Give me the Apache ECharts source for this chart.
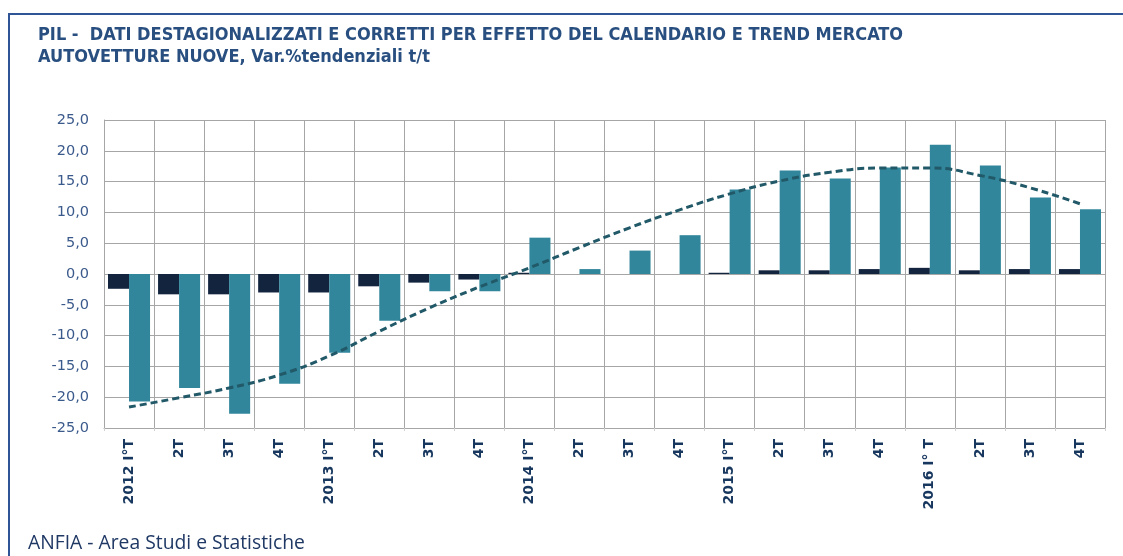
<!DOCTYPE html>
<html><head><meta charset="utf-8">
<script src="https://cdn.jsdelivr.net/npm/echarts@6/dist/echarts.min.js"></script>
<style>html,body{margin:0;padding:0;background:#fff}#c{width:1123px;height:556px}</style>
</head><body><div id="c"></div>
<script>
const categories = ["2012 I°T","2T","3T","4T","2013 I°T","2T","3T","4T","2014 I°T","2T","3T","4T","2015 I°T","2T","3T","4T","2016 I° T","2T","3T","4T"];
const pilValues = [-2.4,-3.3,-3.3,-3.0,-3.0,-2.0,-1.4,-0.9,0.2,0,0,0,0.2,0.6,0.6,0.8,1.0,0.6,0.8,0.8];
const autoValues = [-20.7,-18.5,-22.7,-17.8,-12.8,-7.6,-2.8,-2.8,5.9,0.8,3.8,6.3,13.7,16.8,15.5,17.3,21.0,17.6,12.4,10.5];
const trendValues = [-21.6,-20.1,-18.5,-16.4,-13.3,-9.3,-5.5,-2.1,1.0,4.3,7.5,10.4,13.0,15.1,16.5,17.2,17.2,16.0,14.0,11.4];
const titleLines = ["PIL -  DATI DESTAGIONALIZZATI E CORRETTI PER EFFETTO DEL CALENDARIO E TREND MERCATO","AUTOVETTURE NUOVE, Var.%tendenziali t/t"];
const footer = "ANFIA - Area Studi e Statistiche";

const ctx = document.createElement('canvas').getContext('2d');
function fit(text, weight, family, target){
  ctx.font = weight + ' 100px ' + family;
  return 100 * target / ctx.measureText(text).width;
}
const titleFam = '"Liberation Sans Narrow","DejaVu Sans Condensed",sans-serif';
const footFam = '"Liberation Sans Narrow","Open Sans",sans-serif';
const titleSize = fit(titleLines[0], 'bold', titleFam, 865);
const footSize = fit(footer, 'normal', footFam, 277);

const chart = echarts.init(document.getElementById('c'));
chart.setOption({
  animation:false,
  backgroundColor:'#fff',
  graphic:[
    {type:'line',shape:{x1:9,y1:14,x2:1123,y2:14},style:{stroke:'#2f5597',lineWidth:2}},
    {type:'line',shape:{x1:9,y1:13,x2:9,y2:556},style:{stroke:'#2f5597',lineWidth:2}},
    {type:'text',left:38,top:24,style:{text:titleLines.join('\n'),font:'bold '+titleSize.toFixed(2)+'px '+titleFam,fill:'#284f80',lineHeight:22}},
    {type:'text',left:28,top:534,style:{text:footer,font:footSize.toFixed(2)+'px '+footFam,fill:'#1f3864'}}
  ],
  grid:{left:104,right:18,top:120,bottom:128,containLabel:false},
  xAxis:{type:'category',data:categories,boundaryGap:true,
    axisLine:{show:true,onZero:false,lineStyle:{color:'#a6a6a6'}},
    axisTick:{show:true,alignWithLabel:false,length:3,lineStyle:{color:'#d0d0d0'}},
    splitLine:{show:true,lineStyle:{color:'#a6a6a6',width:1}},
    axisLabel:{rotate:90,interval:0,margin:11,color:'#17375e',fontWeight:'bold',fontSize:14,fontFamily:'"DejaVu Sans",sans-serif'}
  },
  yAxis:{type:'value',min:-25,max:25,interval:5,
    axisLine:{show:true,lineStyle:{color:'#a6a6a6'}},
    axisTick:{show:false},
    splitLine:{lineStyle:{color:'#a6a6a6',width:1}},
    axisLabel:{formatter:v=>v.toFixed(1).replace('.',','),color:'#3b5a8c',fontSize:14.5,fontFamily:'"DejaVu Sans",sans-serif',margin:15}
  },
  series:[
    {name:'PIL',type:'bar',data:pilValues,barGap:'0%',barCategoryGap:'16%',itemStyle:{color:'#13243f'}},
    {name:'Mercato',type:'bar',data:autoValues,itemStyle:{color:'#31869b'}},
    {name:'Trend',type:'line',data:trendValues,smooth:true,symbol:'none',z:5,
      lineStyle:{color:'#215968',width:3,type:[7,4]}}
  ]
});
</script></body></html>
